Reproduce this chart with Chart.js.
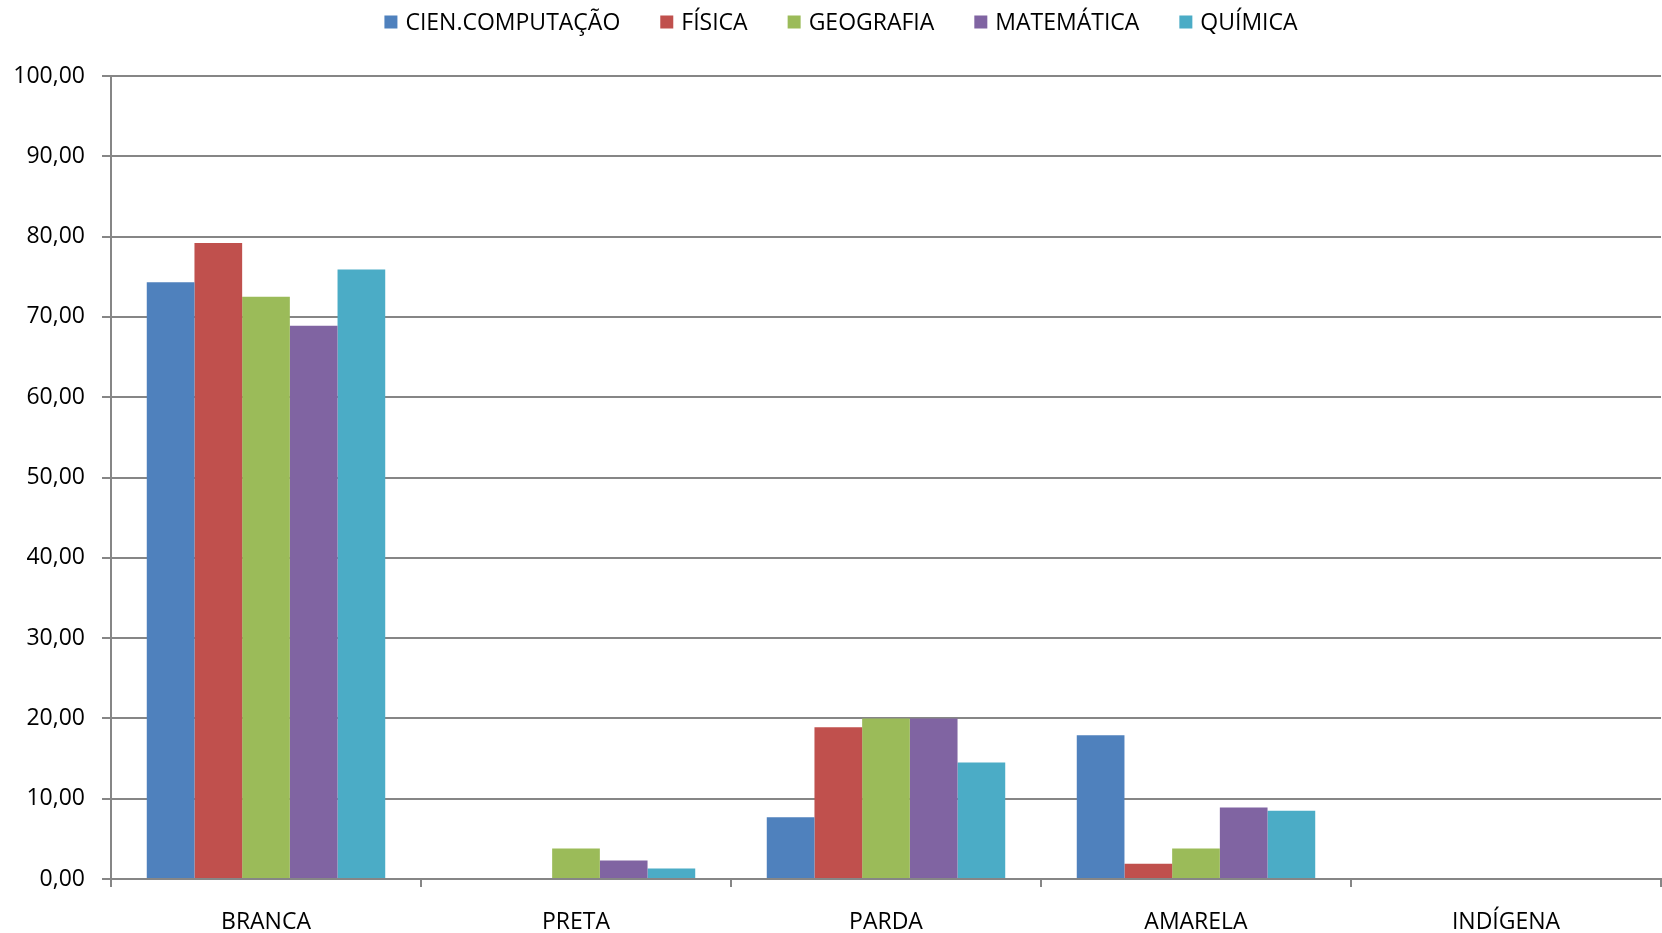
<!DOCTYPE html>
<html>
<head>
<meta charset="utf-8">
<script src="https://cdn.jsdelivr.net/npm/chart.js@4"></script>
<style>
  html, body { margin: 0; padding: 0; background: #fff; }
  #wrap { width: 1662px; height: 933px; position: relative; }
</style>
</head>
<body>
<div id="wrap"><canvas id="grafico"></canvas></div>
<script>
// dados
const categorias = ['BRANCA', 'PRETA', 'PARDA', 'AMARELA', 'INDÍGENA'];
const cienComputacao = [74.3, 0, 7.7, 17.9, 0];
const fisica = [79.2, 0, 18.9, 1.9, 0];
const geografia = [72.5, 3.8, 20.0, 3.8, 0];
const matematica = [68.9, 2.3, 20.0, 8.9, 0];
const quimica = [75.9, 1.3, 14.5, 8.5, 0];
const rotulosY = ['0,00', '10,00', '20,00', '30,00', '40,00', '50,00', '60,00', '70,00', '80,00', '90,00', '100,00'];

const FONTE = '"Open Sans", "Noto Sans", sans-serif';
const CINZA = '#868686';

// legenda desenhada à mão para reproduzir o espaçamento do Excel
const legendaTopo = {
    id: 'legendaTopo',
    afterDraw(chart) {
        const ctx = chart.ctx;
        const caixa = 13, espTexto = 8, espItem = 40;
        ctx.save();
        ctx.font = '23px ' + FONTE;
        ctx.textBaseline = 'middle';
        const itens = chart.data.datasets.map(ds => ({
            txt: ds.label, cor: ds.backgroundColor, w: ctx.measureText(ds.label).width
        }));
        let total = itens.reduce((s, it) => s + caixa + espTexto + it.w, 0) + espItem * (itens.length - 1);
        let x = chart.width / 2 + 10 - total / 2;
        const y = 22;
        itens.forEach(it => {
            ctx.fillStyle = it.cor;
            ctx.fillRect(x, y - caixa / 2, caixa, caixa);
            x += caixa + espTexto;
            ctx.fillStyle = '#000';
            ctx.fillText(it.txt, x, y + 1);
            x += it.w + espItem;
        });
        ctx.restore();
    }
};

new Chart(document.getElementById('grafico'), {
    type: 'bar',
    data: {
        labels: categorias,
        datasets: [
            { label: 'CIEN.COMPUTAÇÃO', data: cienComputacao, backgroundColor: '#4F81BD' },
            { label: 'FÍSICA', data: fisica, backgroundColor: '#C0504D' },
            { label: 'GEOGRAFIA', data: geografia, backgroundColor: '#9BBB59' },
            { label: 'MATEMÁTICA', data: matematica, backgroundColor: '#8064A2' },
            { label: 'QUÍMICA', data: quimica, backgroundColor: '#4BACC6' }
        ]
    },
    options: {
        responsive: true,
        maintainAspectRatio: false,
        animation: false,
        datasets: {
            bar: { categoryPercentage: 5 / 6.5, barPercentage: 1.0, borderWidth: 0 }
        },
        layout: { padding: { top: 76, left: 12, right: 1, bottom: 0 } },
        plugins: {
            legend: { display: false },
            tooltip: { enabled: false }
        },
        scales: {
            x: {
                afterFit: (s) => { s.height = 54; },
                grid: {
                    display: true,
                    drawOnChartArea: false,
                    drawTicks: true,
                    tickLength: 8,
                    color: CINZA,
                    lineWidth: 2
                },
                border: { display: true, color: CINZA, width: 2 },
                ticks: {
                    color: '#000',
                    padding: 22,
                    font: { family: FONTE, size: 23 }
                }
            },
            y: {
                min: 0,
                max: 100,
                afterFit: (s) => { s.width = 99; },
                grid: {
                    color: CINZA,
                    lineWidth: 2,
                    drawTicks: true,
                    tickLength: 9
                },
                border: { display: true, color: CINZA, width: 2 },
                ticks: {
                    stepSize: 10,
                    color: '#000',
                    padding: 17,
                    font: { family: FONTE, size: 23 },
                    callback: (v, i) => rotulosY[i]
                }
            }
        }
    },
    plugins: [legendaTopo]
});
</script>
</body>
</html>
